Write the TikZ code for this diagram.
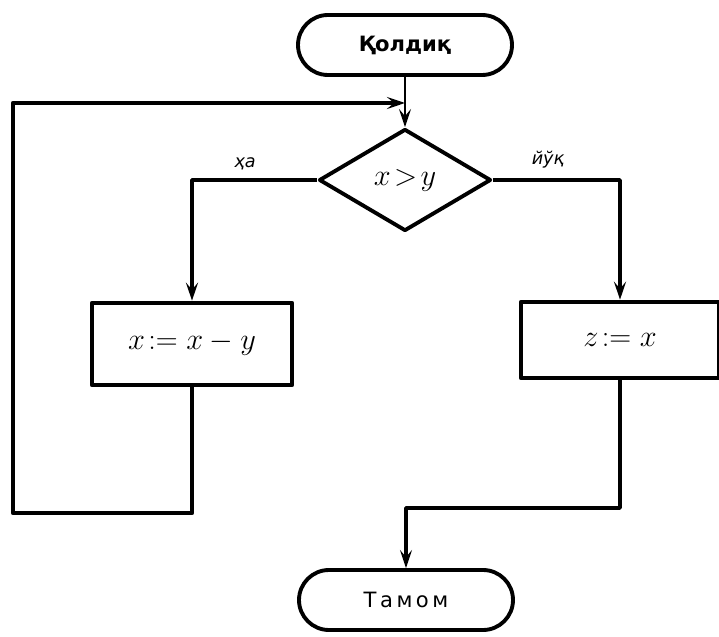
\documentclass[tikz,border=0pt]{standalone}
\usepackage{amsmath}
\usepackage{fontspec}
\newfontfamily\cyr{DejaVu Sans}
\usetikzlibrary{shapes.geometric,arrows.meta}

\begin{document}
\begin{tikzpicture}[line join=round,
  every node/.style={draw, line width=2.2pt},
  terminal/.style={rectangle, rounded corners=0.6cm, minimum width=4.28cm, minimum height=1.2cm, font=\cyr\large},
  box/.style={rectangle, line width=2.6pt, font=\LARGE},
  cond/.style={diamond, minimum width=3.44cm, minimum height=2.04cm, inner sep=0pt, font=\LARGE},
  lbl/.style={draw=none, font=\cyr\itshape},
  arr/.style={-{Stealth[length=3.6mm, width=2.4mm, inset=1.4mm]}, line width=1.6pt}]
  \useasboundingbox (0,0) rectangle (14.38,-12.74);
  \node (start) [terminal, font=\cyr\bfseries\large] at (8.1cm, -0.9cm) {Қолдиқ};
  \node (test) [cond] at (8.1cm, -3.6cm) {$x\!>\!y$};
  \node (sub) [box, minimum width=4cm, minimum height=1.64cm] at (3.84cm, -6.88cm) {$x\!:=x-y$};
  \node (copy) [box, minimum width=3.96cm, minimum height=1.52cm] at (12.4cm, -6.8cm) {$z\!:=x$};
  \node (stop) [terminal] at (8.12cm, -12cm) {Т\,а\,м\,о\,м};
  \node (yes) [lbl] at (4.9cm, -3.28cm) {ҳа};
  \node (no) [lbl] at (10.96cm, -3.2cm) {йўқ};
  \coordinate (back) at (8.1cm, -2.06cm);
  \coordinate (low) at (3.84cm, -10.26cm);
  \coordinate (corner) at (0.26cm, -10.26cm);
  \coordinate (top) at (0.26cm, -2.06cm);
  \coordinate (merge) at (12.4cm, -10.16cm);
  \draw[arr] (start) -- (test);
  \draw[arr, line width=2pt] (test.west) -| (sub.north);
  \draw[arr, line width=2pt] (test.east) -| (copy.north);
  \draw[arr, line width=2.4pt] (sub.south) -- (low) -- (corner) -- (top) -- (back);
  \draw[arr, line width=2pt] (copy.south) -- (merge) -| (stop.north);
\end{tikzpicture}
\end{document}
